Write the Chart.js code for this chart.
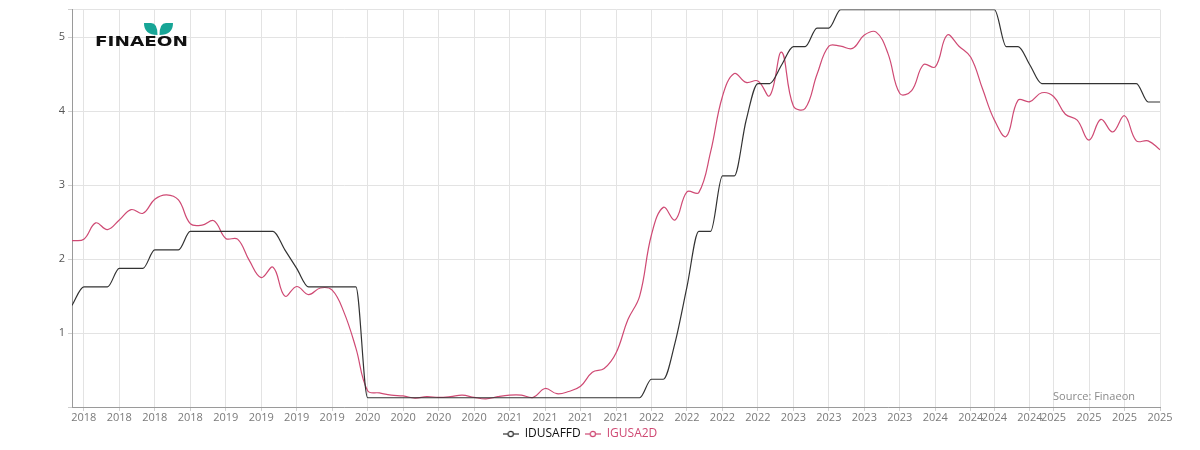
<!DOCTYPE html>
<html><head><meta charset="utf-8">
<script src="https://cdn.jsdelivr.net/npm/chart.js@4.4.1/dist/chart.umd.min.js"></script>
<style>html,body{margin:0;padding:0;background:#fff;}canvas{display:block;}</style>
</head><body>
<canvas id="c" width="1200" height="450"></canvas>
<script>
// Series names
const seriesNames = ['IDUSAFFD', 'IGUSA2D'];
// Fed funds (effective target midpoint), one value per observation
const idusaffd = [
  1.375, 1.625, 1.625, 1.625, 1.875, 1.875, 1.875, 2.125, 2.125, 2.125,
  2.375, 2.375, 2.375, 2.375, 2.375, 2.375, 2.375, 2.375, 2.125, 1.875,
  1.625, 1.625, 1.625, 1.625, 1.625, 0.125, 0.125, 0.125, 0.125, 0.125,
  0.125, 0.125, 0.125, 0.125, 0.125, 0.125, 0.125, 0.125, 0.125, 0.125,
  0.125, 0.125, 0.125, 0.125, 0.125, 0.125, 0.125, 0.125, 0.125, 0.375,
  0.375, 0.875, 1.625, 2.375, 2.375, 3.125, 3.125, 3.875, 4.375, 4.375,
  4.625, 4.875, 4.875, 5.125, 5.125, 5.375, 5.375, 5.375, 5.375, 5.375,
  5.375, 5.375, 5.375, 5.375, 5.375, 5.375, 5.375, 5.375, 5.375, 4.875,
  4.875, 4.625, 4.375, 4.375, 4.375, 4.375, 4.375, 4.375, 4.375, 4.375,
  4.375, 4.125, 4.125
];
// 2-year treasury yield
const igusa2d = [
  2.25, 2.27, 2.49, 2.40, 2.53, 2.67, 2.62, 2.81, 2.87, 2.80,
  2.48, 2.46, 2.52, 2.28, 2.27, 1.98, 1.75, 1.89, 1.50, 1.63,
  1.52, 1.61, 1.58, 1.28, 0.80, 0.22, 0.19, 0.16, 0.15, 0.12,
  0.14, 0.13, 0.14, 0.16, 0.13, 0.11, 0.14, 0.16, 0.16, 0.13,
  0.25, 0.18, 0.21, 0.28, 0.47, 0.52, 0.73, 1.18, 1.50, 2.33,
  2.70, 2.53, 2.91, 2.90, 3.45, 4.20, 4.51, 4.39, 4.41, 4.21,
  4.80, 4.07, 4.04, 4.50, 4.88, 4.88, 4.85, 5.03, 5.07, 4.78,
  4.24, 4.28, 4.63, 4.60, 5.03, 4.88, 4.73, 4.30, 3.88, 3.66,
  4.15, 4.13, 4.25, 4.20, 3.96, 3.88, 3.61, 3.89, 3.72, 3.94,
  3.60, 3.60, 3.48
];
// x-axis tick positions (observation index) and their labels
const tickIndex = [1, 4, 7, 10, 13, 16, 19, 22, 25, 28, 31, 34, 37, 40, 43, 46,
  49, 52, 55, 58, 61, 64, 67, 70, 73, 76, 78, 81, 83, 86, 89, 92];
const tickLabels = ['2018', '2018', '2018', '2018', '2019', '2019', '2019', '2019',
  '2020', '2020', '2020', '2020', '2021', '2021', '2021', '2021',
  '2022', '2022', '2022', '2022', '2023', '2023', '2023', '2023',
  '2024', '2024', '2024', '2024', '2025', '2025', '2025', '2025'];
// y-axis labelled ticks
const yTicks = [1, 2, 3, 4, 5];
const sourceText = 'Source: Finaeon';
const logoText = 'FINAEON';

const FONT = '"Open Sans", "Segoe UI", sans-serif';
const colors = ['#333333', '#cf4a74'];

function legendSymbol(color) {
  const c = document.createElement('canvas');
  c.width = 16; c.height = 8;
  const g = c.getContext('2d');
  g.strokeStyle = color; g.lineWidth = 1.2;
  g.beginPath(); g.moveTo(0, 4); g.lineTo(16, 4); g.stroke();
  g.fillStyle = '#fff';
  g.beginPath(); g.arc(8, 4, 2.6, 0, Math.PI * 2); g.fill(); g.stroke();
  return c;
}

const overlay = {
  id: 'overlay',
  afterDraw(chart) {
    const ctx = chart.ctx, area = chart.chartArea;
    ctx.save();
    // source
    ctx.font = '11px ' + FONT;
    ctx.fillStyle = '#8a8a8a';
    ctx.textAlign = 'right';
    ctx.textBaseline = 'middle';
    ctx.fillText(sourceText, area.right - 25, area.bottom - 10);
    // logo text
    ctx.font = 'bold 16px "DejaVu Sans", sans-serif';
    ctx.fillStyle = '#111';
    ctx.textAlign = 'left';
    ctx.textBaseline = 'alphabetic';
    const w = ctx.measureText(logoText).width;
    ctx.translate(95, 46);
    ctx.scale(93 / w, 0.9);
    ctx.fillText(logoText, 0, 0);
    ctx.restore();
    // leaves
    ctx.save();
    ctx.fillStyle = '#17a596';
    ctx.beginPath();
    ctx.moveTo(157.5, 35);
    ctx.quadraticCurveTo(144, 35, 144, 23);
    ctx.lineTo(151, 23);
    ctx.quadraticCurveTo(157.5, 23, 157.5, 35);
    ctx.fill();
    ctx.beginPath();
    ctx.moveTo(159.5, 35);
    ctx.quadraticCurveTo(173, 35, 173, 23);
    ctx.lineTo(166, 23);
    ctx.quadraticCurveTo(159.5, 23, 159.5, 35);
    ctx.fill();
    ctx.restore();
  }
};

new Chart(document.getElementById('c'), {
  type: 'line',
  data: {
    datasets: [
      {
        label: seriesNames[0],
        data: idusaffd.map((v, i) => ({x: i, y: v})),
        borderColor: colors[0], borderWidth: 1.2,
        pointRadius: 0, cubicInterpolationMode: 'monotone', fill: false
      },
      {
        label: seriesNames[1],
        data: igusa2d.map((v, i) => ({x: i, y: v})),
        borderColor: colors[1], borderWidth: 1.2,
        pointRadius: 0, tension: 0.4, fill: false
      }
    ]
  },
  options: {
    responsive: false,
    animation: false,
    layout: {padding: {left: 0, right: 40, top: 9, bottom: 0}},
    plugins: {
      tooltip: {enabled: false},
      legend: {
        position: 'bottom',
        labels: {
          usePointStyle: true,
          pointStyleWidth: 16,
          padding: 4,
          font: {family: FONT, size: 12},
          generateLabels(chart) {
            return chart.data.datasets.map((ds, i) => ({
              text: ds.label,
              fontColor: i === 0 ? '#111' : colors[1],
              pointStyle: legendSymbol(colors[i]),
              strokeStyle: colors[i],
              fillStyle: '#fff',
              lineWidth: 0,
              hidden: false,
              datasetIndex: i
            }));
          }
        }
      }
    },
    scales: {
      x: {
        type: 'linear',
        min: 0, max: idusaffd.length - 1,
        afterBuildTicks(scale) { scale.ticks = tickIndex.map(v => ({value: v})); },
        afterFit(scale) { scale.height = 17; },
        ticks: {
          autoSkip: false, maxRotation: 0, padding: 0,
          color: '#7a7a7a', font: {family: FONT, size: 11},
          callback: (v, i) => tickLabels[i]
        },
        grid: {color: '#e3e3e3', tickLength: 4, tickColor: '#cfcfcf'},
        border: {color: '#9a9a9a'}
      },
      y: {
        min: 0, max: Math.max(...idusaffd),
        afterBuildTicks(scale) {
          scale.ticks = [0].concat(yTicks, [scale.max]).map(v => ({value: v}));
        },
        afterFit(scale) { scale.width = 72; },
        ticks: {
          padding: 3, color: '#555', font: {family: FONT, size: 11},
          callback: v => yTicks.includes(v) ? String(v) : ''
        },
        grid: {color: '#e3e3e3', tickLength: 4, tickColor: '#cfcfcf'},
        border: {color: '#9a9a9a'}
      }
    }
  },
  plugins: [overlay]
});
</script>
</body></html>
